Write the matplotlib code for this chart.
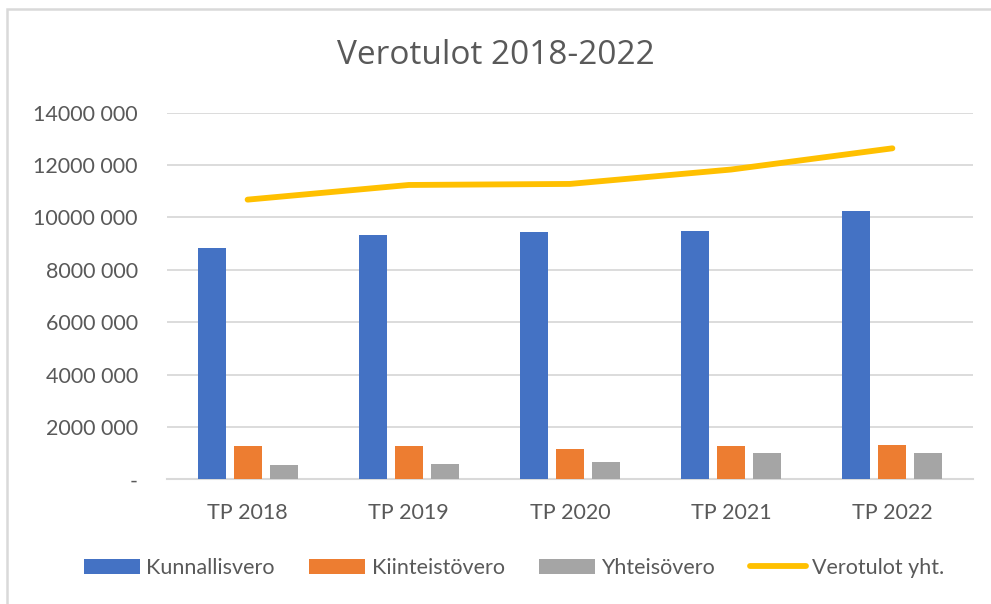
import numpy as np
import matplotlib
matplotlib.use("Agg")
import matplotlib.pyplot as plt
from matplotlib.patches import Rectangle
from matplotlib.ticker import FuncFormatter

years = ["TP 2018", "TP 2019", "TP 2020", "TP 2021", "TP 2022"]
kunnallisvero = [8830000, 9330000, 9450000, 9500000, 10260000]
kiinteistovero = [1270000, 1270000, 1150000, 1270000, 1310000]
yhteisovero = [550000, 600000, 650000, 990000, 990000]
verotulot_yht = [10680000, 11240000, 11280000, 11830000, 12640000]

grid_col = "#D9D9D9"
text_col = "#595959"
plt.rcParams['font.family'] = ['Lato', 'DejaVu Sans']

fig = plt.figure(figsize=(9.91, 6.04), dpi=100)
ax = fig.add_axes([167/991, 1 - 479.3/604, (973-167)/991, (479.3-112.7)/604])

x = np.arange(len(years))
w = 0.174
off = 0.223
b1 = ax.bar(x - off, kunnallisvero, w, color="#4472C4", label="Kunnallisvero", zorder=3)
b2 = ax.bar(x, kiinteistovero, w, color="#ED7D31", label="Kiinteistövero", zorder=3)
b3 = ax.bar(x + off, yhteisovero, w, color="#A5A5A5", label="Yhteisövero", zorder=3)
ln, = ax.plot(x, verotulot_yht, color="#FFC000", lw=4.2, solid_capstyle="round",
              label="Verotulot yht.", zorder=4)

ax.set_xlim(-0.5, len(years) - 0.5)
ax.set_ylim(0, 14000000)
ax.set_yticks(np.arange(0, 14000001, 2000000))

def fmt(v, pos):
    if v == 0:
        return "-"
    m = int(v) // 1000000
    return f"{m}000 000"

ax.yaxis.set_major_formatter(FuncFormatter(fmt))
ax.set_xticks(x)
ax.set_xticklabels(years)
ax.tick_params(axis="both", length=0, colors=text_col, labelsize=15.5)
ax.tick_params(axis="y", pad=21)
ax.tick_params(axis="x", pad=17)
ax.grid(axis="y", color=grid_col, lw=1.3, zorder=0)
for s in ["top", "right", "left"]:
    ax.spines[s].set_visible(False)
ax.spines["bottom"].set_color(grid_col)
ax.spines["bottom"].set_linewidth(1.5)

fig.text(0.5, 1 - 55/604, "Verotulot 2018-2022", ha="center", va="center",
         fontsize=24, color=text_col, family=["Open Sans", "DejaVu Sans"])

leg = fig.legend([b1, b2, b3, ln],
                 ["Kunnallisvero", "Kiinteistövero", "Yhteisövero", "Verotulot yht."],
                 loc="center", bbox_to_anchor=(514/991, 1 - 568/604),
                 ncol=4, frameon=False, fontsize=15.5, handlelength=2.6,
                 handleheight=0.7, handletextpad=0.3, columnspacing=1.6, labelcolor=text_col)

fig.patches.append(Rectangle((7/991, -0.1), 1.2, (1 - 9/604) + 0.1, transform=fig.transFigure,
                             fill=False, edgecolor=grid_col, lw=1.8))

fig.savefig("out.png", dpi=100)
